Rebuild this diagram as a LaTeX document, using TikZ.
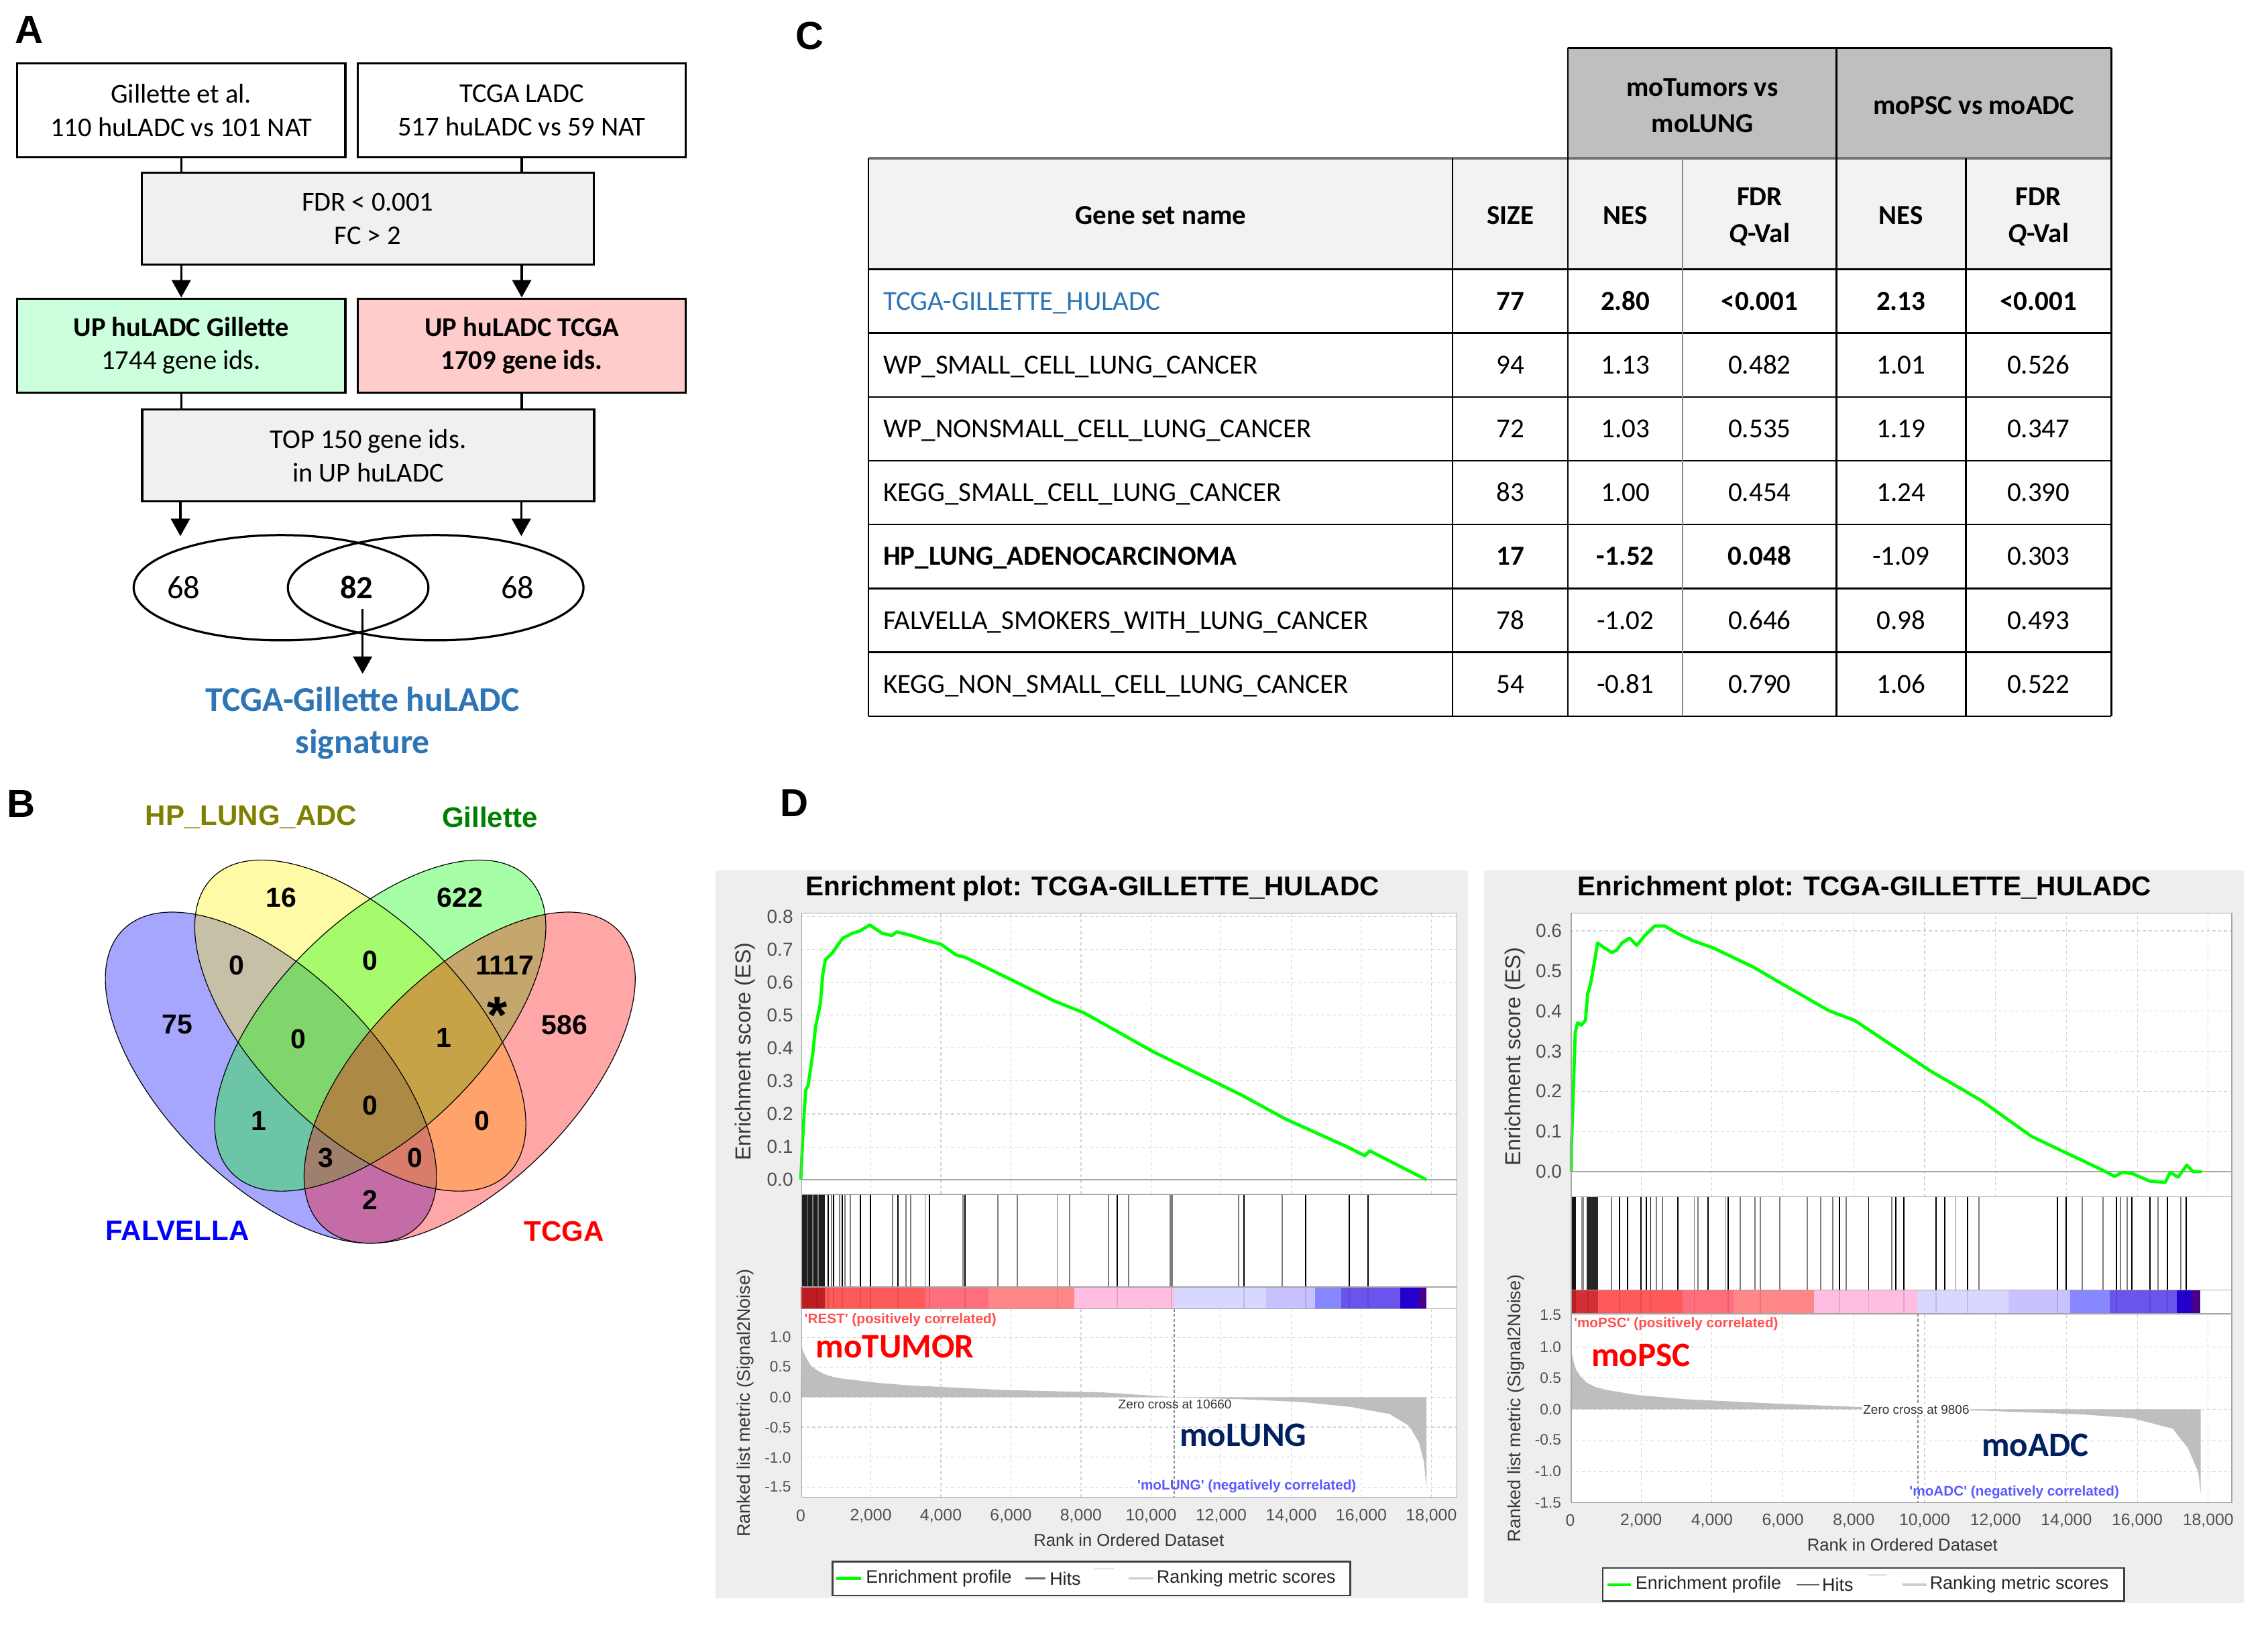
\documentclass[tikz,border=0pt]{standalone}
\usepackage{fontspec}
\setmainfont{Carlito}
\newfontfamily\arial{Liberation Sans}
\usetikzlibrary{arrows.meta,shapes.geometric}
\definecolor{boxgray}{RGB}{240,240,240}
\definecolor{mint}{RGB}{204,255,221}
\definecolor{rosy}{RGB}{255,204,204}
\definecolor{sigblue}{RGB}{46,117,182}
\definecolor{hdrgray}{RGB}{191,191,191}
\definecolor{hdrlight}{RGB}{242,242,242}
\definecolor{olivetxt}{RGB}{128,128,0}
\definecolor{greentxt}{RGB}{0,128,0}
\definecolor{panelbg}{RGB}{238,238,238}
\definecolor{gridc}{RGB}{210,210,210}
\definecolor{framec}{RGB}{165,165,165}
\definecolor{ticktxt}{RGB}{80,80,80}
\definecolor{axtxt}{RGB}{55,55,55}
\definecolor{esgreen}{RGB}{0,255,0}
\definecolor{metricgray}{RGB}{190,190,190}
\definecolor{poscol}{RGB}{255,80,80}
\definecolor{negcol}{RGB}{90,90,255}
\definecolor{navy}{RGB}{0,32,96}
\definecolor{hitgray}{RGB}{125,125,125}
\definecolor{cbA}{RGB}{190,30,35}
\definecolor{cbB}{RGB}{255,90,90}
\definecolor{cbC}{RGB}{255,110,125}
\definecolor{cbD}{RGB}{255,135,135}
\definecolor{cbE}{RGB}{255,190,225}
\definecolor{cbF}{RGB}{215,215,255}
\definecolor{cbG}{RGB}{200,195,255}
\definecolor{cbH}{RGB}{135,135,255}
\definecolor{cbI}{RGB}{105,85,235}
\definecolor{cbJ}{RGB}{35,0,205}
\definecolor{cbK}{RGB}{70,0,140}
\begin{document}
\begin{tikzpicture}[x=1pt,y=-1pt,
  boxA/.style={draw, line width=1.5pt, minimum width=227pt, minimum height=65pt, inner sep=0pt, align=center, font=\fontsize{18.8}{23.1}\selectfont},
  boxB/.style={draw, line width=1.5pt, minimum width=312.5pt, minimum height=63.5pt, inner sep=0pt, align=center, fill=boxgray, font=\fontsize{18.8}{23.1}\selectfont},
  arrA/.style={-{Triangle[length=12pt,width=13pt]}, line width=1.5pt},
  plainA/.style={line width=1.5pt},
  lettr/.style={font=\arial\bfseries\fontsize{27}{30}\selectfont, inner sep=0pt},
  vnum/.style={font=\arial\bfseries\fontsize{19}{22}\selectfont, inner sep=0pt},
  vlab/.style={font=\arial\bfseries\fontsize{19.5}{22}\selectfont, inner sep=0pt},
  tcell/.style={font=\fontsize{19}{23}\selectfont, inner sep=0pt, anchor=base},
  tname/.style={font=\fontsize{19}{23}\selectfont, inner sep=0pt, anchor=base west},
  thead/.style={font=\bfseries\fontsize{19}{23}\selectfont, inner sep=0pt, anchor=base},
  tline/.style={line width=1.2pt},
  gridl/.style={gridc, line width=0.5pt, dash pattern=on 2pt off 2pt},
  frm/.style={framec, line width=0.8pt},
  esline/.style={esgreen, line width=2.2pt, line join=round},
  hitg/.style={hitgray, line width=0.9pt},
  hitb/.style={black, line width=0.9pt},
  ttl/.style={font=\arial\bfseries\fontsize{18.8}{22}\selectfont, inner sep=0pt},
  tickes/.style={font=\arial\fontsize{13}{15}\selectfont, text=ticktxt, inner sep=0pt, anchor=east},
  tickm/.style={font=\arial\fontsize{10.5}{12}\selectfont, text=ticktxt, inner sep=0pt, anchor=east},
  tickx/.style={font=\arial\fontsize{11.5}{13}\selectfont, text=ticktxt, inner sep=0pt},
  axl/.style={font=\arial\fontsize{15}{17}\selectfont, text=axtxt, inner sep=0pt},
  axm/.style={font=\arial\fontsize{12.5}{15}\selectfont, text=axtxt, inner sep=0pt},
  axx/.style={font=\arial\fontsize{11.9}{14}\selectfont, text=axtxt, inner sep=0pt},
  corr/.style={font=\arial\bfseries\fontsize{9.6}{11}\selectfont, inner sep=0pt},
  grp/.style={font=\bfseries\fontsize{23.7}{26}\selectfont, inner sep=0pt, anchor=west},
  zc/.style={font=\arial\fontsize{8.8}{10}\selectfont, text=black!80, inner sep=0.6pt},
  legt/.style={font=\arial\fontsize{12.5}{14}\selectfont, text=black!85, inner sep=0pt, anchor=west},
  legbox/.style={draw=black!75, fill=white, line width=1.2pt, inner sep=0pt}
]
\useasboundingbox (0,0) rectangle (1568,1123);
\fill[white] (0,0) rectangle (1568,1123);

%================ PANEL A =================
\node[lettr] (labA) at (20,20.7) {A};
\node[boxA] (g1) at (125.3,76.2) {Gillette et al.\\110 huLADC vs 101 NAT};
\node[boxA] (g2) at (360.7,76.2) {TCGA LADC\\517 huLADC vs 59 NAT};
\node[boxB] (fdr) at (254.2,151.3) {FDR < 0.001\\FC > 2};
\node[boxA, fill=mint] (upg) at (125.3,238.9) {\textbf{UP huLADC Gillette}\\1744 gene ids.};
\node[boxA, fill=rosy, font=\bfseries\fontsize{18.8}{23.1}\selectfont] (upt) at (360.7,238.9) {UP huLADC TCGA\\1709 gene ids.};
\node[boxB] (top) at (254.5,314.9) {TOP 150 gene ids.\\in UP huLADC};
\draw[plainA] (g1.south) -- (g1.south |- fdr.north);
\draw[plainA] (g2.south) -- (g2.south |- fdr.north);
\draw[arrA] (fdr.south -| upg.north) -- (upg.north);
\draw[arrA] (fdr.south -| upt.north) -- (upt.north);
\draw[plainA] (upg.south) -- (upg.south |- top.north);
\draw[plainA] (upt.south) -- (upt.south |- top.north);
\node[draw, ellipse, line width=1.5pt, minimum width=203.8pt, minimum height=72.8pt, inner sep=0pt] (eL) at (194.3,406.3) {};
\node[draw, ellipse, line width=1.5pt, minimum width=204.4pt, minimum height=72.8pt, inner sep=0pt] (eR) at (301.2,406.3) {};
\coordinate (inL) at (124.7,370.6);
\coordinate (inR) at (360.4,370.6);
\draw[arrA] (top.south -| inL) -- (inL);
\draw[arrA] (top.south -| inR) -- (inR);
\node[font=\fontsize{22.5}{25}\selectfont, inner sep=0pt] (n68a) at (127,406.3) {68};
\node[font=\bfseries\fontsize{22.5}{25}\selectfont, inner sep=0pt] (n82) at (246.6,406.3) {82};
\node[font=\fontsize{22.5}{25}\selectfont, inner sep=0pt] (n68b) at (357.9,406.3) {68};
\node[font=\bfseries\fontsize{24}{29}\selectfont, text=sigblue, align=center, inner sep=0pt] (sig) at (250.7,500) {TCGA-Gillette huLADC\\signature};
\coordinate (s82) at (250.7,421);
\coordinate (sigtop) at (250.7,465.8);
\draw[arrA] (s82) -- (sigtop);

%================ PANEL B =================
\node[lettr] (labB) at (14.8,555.6) {B};
\node[vlab, text=olivetxt] (lhp) at (173.7,565.1) {HP\_LUNG\_ADC};
\node[vlab, text=greentxt] (lgi) at (338.6,565.1) {Gillette};
\node[vlab, text=blue] (lfa) at (122.6,851) {FALVELLA};
\node[vlab, text=red] (ltc) at (390,851) {TCGA};
\foreach \cx/\cy/\ang/\col in {187.3/745/-45/blue, 249.1/709/-45/yellow, 262.9/709/45/green, 324.7/745/45/red}
  \fill[\col, fill opacity=0.35, rotate around={\ang:(\cx,\cy)}] (\cx,\cy) ellipse [x radius=144.6, y radius=72.7];
\foreach \cx/\cy/\ang in {187.3/745/-45, 249.1/709/-45, 262.9/709/45, 324.7/745/45}
  \draw[black, line width=0.55pt, rotate around={\ang:(\cx,\cy)}] (\cx,\cy) ellipse [x radius=144.6, y radius=72.7];
\foreach \px/\py/\val [count=\k] in {194.6/620.7/16, 317.9/620.7/622, 163.5/667.3/0, 256/663.9/0, 348.9/667.3/1117, 122.7/708.4/75, 206.1/718.5/0, 306.9/717.4/1, 390.3/708.4/586, 178.9/774.7/1, 256/764.1/0, 333.2/774.7/0, 225.3/800.5/3, 286.8/800.5/0, 256/829.7/2}
  \node[vnum] (vn\k) at (\px,\py) {\val};
\node[font=\arial\bfseries\fontsize{36}{38}\selectfont, inner sep=0pt] (ast) at (343.6,702) {*};

%================ PANEL C =================
\node[lettr] (labC) at (560,25) {C};
\def\cA{600.3}\def\cB{1004.2}\def\cC{1084}\def\cD{1163.3}\def\cE{1269.7}\def\cF{1359}\def\cG{1459.6}
\fill[hdrgray] (\cC,33.1) rectangle (\cG,109.5);
\fill[hdrlight] (\cA,109.5) rectangle (\cG,186.1);
\draw[tline] (\cC,33.1) -- (\cG,33.1);
\draw[line width=1.7pt, black!55] (\cA,109.5) -- (\cG,109.5);
\foreach \yy in {186.1,230.2,274.4,318.5,362.6,406.8,450.9,495.1}
  \draw[tline] (\cA,\yy) -- (\cG,\yy);
\draw[tline] (\cA,109.5) -- (\cA,495.1);
\draw[tline] (\cB,109.5) -- (\cB,495.1);
\draw[tline] (\cC,33.1) -- (\cC,495.1);
\draw[line width=1.2pt, black!45] (\cD,109.5) -- (\cD,495.1);
\draw[tline] (\cE,33.1) -- (\cE,495.1);
\draw[tline] (\cF,109.5) -- (\cF,495.1);
\draw[tline] (\cG,33.1) -- (\cG,495.1);
\node[thead] (h1a) at (1176.9,66.5) {moTumors vs};
\node[thead] (h1b) at (1176.9,91.4) {moLUNG};
\node[thead] (h2) at (1364.6,78.9) {moPSC vs moADC};
\node[thead] (hg) at (802.6,155) {Gene set name};
\node[thead] (hs) at (1044.1,155) {SIZE};
\node[thead] (hn1) at (1123.7,155) {NES};
\node[thead] (hf1a) at (1216.5,142) {FDR};
\node[thead] (hf1b) at (1216.5,167.4) {\textit{Q}-Val};
\node[thead] (hn2) at (1314.3,155) {NES};
\node[thead] (hf2a) at (1409.3,142) {FDR};
\node[thead] (hf2b) at (1409.3,167.4) {\textit{Q}-Val};
% rows
\node[tname, text=sigblue] (r1n) at (610.4,214.3) {TCGA-GILLETTE\_HULADC};
\node[tcell, font=\bfseries\fontsize{19}{23}\selectfont] (r1a) at (1044.1,214.3) {77};
\node[tcell, font=\bfseries\fontsize{19}{23}\selectfont] (r1b) at (1123.7,214.3) {2.80};
\node[tcell, font=\bfseries\fontsize{19}{23}\selectfont] (r1c) at (1216.5,214.3) {<0.001};
\node[tcell, font=\bfseries\fontsize{19}{23}\selectfont] (r1d) at (1314.3,214.3) {2.13};
\node[tcell, font=\bfseries\fontsize{19}{23}\selectfont] (r1e) at (1409.3,214.3) {<0.001};
\foreach \nm/\s/\na/\fa/\nb/\fb [count=\k from 2] in {
  WP\_SMALL\_CELL\_LUNG\_CANCER/94/1.13/0.482/1.01/0.526,
  WP\_NONSMALL\_CELL\_LUNG\_CANCER/72/1.03/0.535/1.19/0.347,
  KEGG\_SMALL\_CELL\_LUNG\_CANCER/83/1.00/0.454/1.24/0.390}
{
  \pgfmathsetmacro{\yb}{186.1+44.14*(\k-0.5)+6.1}
  \node[tname] (r\k n) at (610.4,\yb) {\nm};
  \node[tcell] (r\k a) at (1044.1,\yb) {\s};
  \node[tcell] (r\k b) at (1123.7,\yb) {\na};
  \node[tcell] (r\k c) at (1216.5,\yb) {\fa};
  \node[tcell] (r\k d) at (1314.3,\yb) {\nb};
  \node[tcell] (r\k e) at (1409.3,\yb) {\fb};
}
\node[tname, font=\bfseries\fontsize{19}{23}\selectfont] (r5n) at (610.4,390.8) {HP\_LUNG\_ADENOCARCINOMA};
\node[tcell, font=\bfseries\fontsize{19}{23}\selectfont] (r5a) at (1044.1,390.8) {17};
\node[tcell, font=\bfseries\fontsize{19}{23}\selectfont] (r5b) at (1123.7,390.8) {-1.52};
\node[tcell, font=\bfseries\fontsize{19}{23}\selectfont] (r5c) at (1216.5,390.8) {0.048};
\node[tcell] (r5d) at (1314.3,390.8) {-1.09};
\node[tcell] (r5e) at (1409.3,390.8) {0.303};
\foreach \nm/\s/\na/\fa/\nb/\fb [count=\k from 6] in {
  FALVELLA\_SMOKERS\_WITH\_LUNG\_CANCER/78/-1.02/0.646/0.98/0.493,
  KEGG\_NON\_SMALL\_CELL\_LUNG\_CANCER/54/-0.81/0.790/1.06/0.522}
{
  \pgfmathsetmacro{\yb}{186.1+44.14*(\k-0.5)+6.1}
  \node[tname] (r\k n) at (610.4,\yb) {\nm};
  \node[tcell] (r\k a) at (1044.1,\yb) {\s};
  \node[tcell] (r\k b) at (1123.7,\yb) {\na};
  \node[tcell] (r\k c) at (1216.5,\yb) {\fa};
  \node[tcell] (r\k d) at (1314.3,\yb) {\nb};
  \node[tcell] (r\k e) at (1409.3,\yb) {\fb};
}

%================ PANEL D =================
\node[lettr] (labD) at (549,555) {D};
%---------- left plot
\fill[panelbg] (494.8,601.8) rectangle (1015,1104.6);
\node[ttl] (tt1) at (755.3,614.1) {Enrichment plot: TCGA-GILLETTE\_HULADC};
\fill[white] (554.3,631.2) rectangle (1007.2,1035.1);
\begin{scope}[shift={(553.6,815.6)}, x=24.22pt, y=227.6pt]
  \foreach \i in {1,...,8} \draw[gridl] (0,\i/10) -- (18.73,\i/10);
  \foreach \r in {2,4,...,18} \draw[gridl] (\r,-0.044) -- (\r,0.81);
  \draw[framec, line width=0.9pt] (0,0) -- (18.73,0);
\end{scope}
\begin{scope}[shift={(553.6,965.9)}, x=24.22pt, y=41.4pt]
  \foreach \v in {1,0.5,0,-0.5,-1,-1.5} \draw[gridl] (0,\v) -- (18.73,\v);
  \foreach \r in {2,4,...,18} \draw[gridl] (\r,-1.671) -- (\r,1.476);
  \fill[metricgray] (0,0) -- (0.03,0.84) -- (0.1,0.72) -- (0.21,0.6) -- (0.3,0.52) -- (0.49,0.44) -- (0.7,0.38) -- (0.91,0.34) -- (1.2,0.31) -- (1.62,0.28) -- (2.2,0.24) -- (3.02,0.2) -- (4.43,0.16) -- (5.84,0.12) -- (8.65,0.08) -- (10.69,0) -- (12.87,-0.04) -- (14.28,-0.08) -- (15.68,-0.16) -- (16.81,-0.28) -- (17.37,-0.48) -- (17.65,-0.76) -- (17.79,-1.08) -- (17.86,-1.52) -- (17.86,0) -- cycle;
  \draw[black!45, line width=0.7pt, dash pattern=on 2pt off 1.5pt] (10.66,1.476) -- (10.66,-1.671);
\end{scope}
\begin{scope}[shift={(553.6,0)}, x=24.22pt]
  \foreach \a/\b/\c in {0/0.69/cbA, 0.69/3.56/cbB, 3.56/5.35/cbC, 5.35/7.8/cbD, 7.8/10.67/cbE, 10.67/13.29/cbF, 13.29/14.69/cbG, 14.69/15.42/cbH, 15.42/17.12/cbI, 17.12/17.65/cbJ, 17.65/17.86/cbK}
    \fill[\c] (\a,889.8) rectangle (\b,904.8);
  \fill[black!88] (0.03,825.6) rectangle (0.69,889.8);
  \foreach \r in {0.2,0.35,0.5} \draw[hitg] (\r,825.6) -- (\r,889.8);
  \foreach \r in {0.88,1.10,1.26,1.42,2.63,3.0,3.14,3.55,4.64,5.63,6.19,7.32,7.67,8.79,9.36,12.49,13.75}
    \draw[hitg] (\r,825.6) -- (\r,889.8);
  \foreach \r in {0.78,0.94,1.18,1.71,1.99,2.78,3.67,4.69,9.03,12.65,14.41,15.65,16.19}
    \draw[hitb] (\r,825.6) -- (\r,889.8);
  \draw[hitgray, line width=2.4pt] (10.58,825.6) -- (10.58,889.8);
  \foreach \r in {0.2,0.45,0.78,0.94,1.18,1.71,1.99,2.78,3.67,4.69,7.32,9.03,10.58,12.65,14.41,15.65,16.19}
    \draw[black, opacity=0.12, line width=0.9pt] (\r,889.8) -- (\r,904.8);
\end{scope}
\begin{scope}[shift={(553.6,815.6)}, x=24.22pt, y=227.6pt]
  \draw[esline] plot coordinates {(0,0) (0.07,0.154) (0.14,0.272) (0.21,0.286) (0.35,0.389) (0.42,0.463) (0.56,0.536) (0.63,0.624) (0.70,0.668) (0.91,0.690) (1.05,0.712) (1.20,0.734) (1.48,0.749) (1.69,0.756) (1.97,0.774) (2.32,0.749) (2.60,0.742) (2.74,0.753) (3.16,0.742) (3.59,0.727) (4.01,0.715) (4.43,0.683) (4.71,0.675) (5.27,0.646) (6.12,0.602) (7.24,0.543) (8.09,0.507) (10.06,0.389) (11.46,0.316) (12.59,0.257) (13.85,0.184) (15.54,0.103) (16.10,0.073) (16.24,0.088) (17.86,0.0)};
\end{scope}
\draw[frm] (554.3,631.2) rectangle (1007.2,1035.1);
\draw[frm] (554.3,825.6) -- (1007.2,825.6);
\draw[frm] (554.3,889.8) -- (1007.2,889.8);
\draw[frm] (554.3,904.8) -- (1007.2,904.8);
\foreach \i in {0,...,8} \node[tickes] (esl\i) at (548.5,{815.6-22.76*\i}) {0.\i};
\foreach \lab/\yy [count=\k] in {1.0/924.2, 0.5/944.9, 0.0/965.9, -0.5/986.7, -1.0/1007.7, -1.5/1027.7}
  \node[tickm] (mtl\k) at (547,\yy) {\lab};
\foreach \r/\lab [count=\k] in {0/0, 2/{2,000}, 4/{4,000}, 6/{6,000}, 8/{8,000}, 10/{10,000}, 12/{12,000}, 14/{14,000}, 16/{16,000}, 18/{18,000}}
  \node[tickx] (xtl\k) at ({553.6+24.22*\r},1047.8) {\lab};
\node[axx] (xl1) at (780.4,1064.5) {Rank in Ordered Dataset};
\node[axl, rotate=90] (yl1) at (515.2,727) {Enrichment score (ES)};
\node[axm, rotate=90] (ym1) at (515.2,970) {Ranked list metric (Signal2Noise)};
\node[corr, text=poscol, anchor=west] (pc1) at (556,912.4) {\textquotesingle REST\textquotesingle{} (positively correlated)};
\node[grp, text=red] (g1t) at (564,930.9) {moTUMOR};
\node[zc] (zc1) at (812.3,971) {Zero cross at 10660};
\node[grp, text=navy] (g1b) at (815.5,992) {moLUNG};
\node[corr, text=negcol] (nc1) at (862,1027.7) {\textquotesingle moLUNG\textquotesingle{} (negatively correlated)};
\node[legbox, minimum width=357.7pt, minimum height=23.5pt] (leg1) at (754.55,1091.25) {};
\draw[esgreen, line width=2pt] (578.1,1091.2) -- (595.1,1091.2);
\node[legt] (lg1a) at (598.5,1091.2) {Enrichment profile};
\draw[black!60, line width=1.2pt] (709,1091.2) -- (722.6,1091.2);
\node[legt] (lg1b) at (725.5,1091.2) {Hits};
\draw[black!10, line width=1pt] (756.6,1084.5) -- (770.2,1084.5);
\draw[black!20, line width=1.5pt] (780.4,1091.2) -- (797.4,1091.2);
\node[legt] (lg1c) at (799.5,1091.2) {Ranking metric scores};

%---------- right plot
\fill[panelbg] (1026.2,601.8) rectangle (1551.2,1107.9);
\node[ttl] (tt2) at (1289,614.1) {Enrichment plot: TCGA-GILLETTE\_HULADC};
\fill[white] (1086.3,631.2) rectangle (1543.1,1038.8);
\begin{scope}[shift={(1085.6,809.9)}, x=24.5pt, y=277.3pt]
  \foreach \i in {1,...,6} \draw[gridl] (0,\i/10) -- (18.67,\i/10);
  \foreach \r in {2,4,...,18} \draw[gridl] (\r,-0.063) -- (\r,0.644);
  \draw[framec, line width=0.9pt] (0,0) -- (18.67,0);
\end{scope}
\begin{scope}[shift={(1085.6,974.3)}, x=24.5pt, y=43.2pt]
  \foreach \v in {1,0.5,0,-0.5,-1} \draw[gridl] (0,\v) -- (18.67,\v);
  \foreach \r in {2,4,...,18} \draw[gridl] (\r,-1.5) -- (\r,1.53);
  \fill[metricgray] (0,0) -- (0.03,0.94) -- (0.1,0.75) -- (0.17,0.63) -- (0.3,0.52) -- (0.46,0.43) -- (0.7,0.36) -- (1.03,0.31) -- (1.88,0.23) -- (3.31,0.16) -- (5.88,0.09) -- (9.81,0) -- (11.58,-0.02) -- (14.44,-0.08) -- (15.86,-0.14) -- (17.0,-0.31) -- (17.43,-0.62) -- (17.72,-1.0) -- (17.79,-1.35) -- (17.79,0) -- cycle;
  \draw[black!45, line width=0.7pt, dash pattern=on 2pt off 1.5pt] (9.81,1.53) -- (9.81,-1.5);
\end{scope}
\begin{scope}[shift={(1085.6,0)}, x=24.5pt]
  \foreach \a/\b/\c in {0/0.16/cbA, 0.16/0.79/cbA!70!cbB, 0.79/3.16/cbB, 3.16/4.61/cbC, 4.61/6.88/cbD, 6.88/9.8/cbE, 9.8/12.37/cbF, 12.37/14.11/cbG, 14.11/15.23/cbH, 15.23/17.12/cbI, 17.12/17.53/cbJ, 17.53/17.77/cbK}
    \fill[\c] (\a,891.8) rectangle (\b,908.1);
  \fill[black!92] (0.03,827.3) rectangle (0.16,891.8);
  \fill[black!45] (0.31,827.3) rectangle (0.39,891.8);
  \fill[black!85] (0.47,827.3) rectangle (0.79,891.8);
  \foreach \r in {1.17,2.43,2.6,3.5,3.6,4.37,4.79,5.22,5.36,5.91,6.68,7.06,7.4,7.78,9.08,10.88,11.54,14.44,15.04,15.52,15.71,16.59,17.22}
    \draw[hitg] (\r,827.3) -- (\r,891.8);
  \foreach \r in {1.39,1.61,1.99,2.14,2.27,3.03,3.89,4.45,7.6,8.42,9.19,9.42,10.32,10.56,11.21,13.75,13.99,15.41,15.85,16.36,16.85,17.38}
    \draw[hitb] (\r,827.3) -- (\r,891.8);
  \foreach \r in {0.5,1.39,1.99,2.27,3.5,4.45,5.36,7.6,8.42,9.42,10.32,11.21,13.75,15.41,16.36,16.85,17.38}
    \draw[black, opacity=0.12, line width=0.9pt] (\r,891.8) -- (\r,908.1);
\end{scope}
\begin{scope}[shift={(1085.6,809.9)}, x=24.5pt, y=277.3pt]
  \draw[esline] plot coordinates {(0.03,0) (0.03,0.058) (0.07,0.154) (0.1,0.239) (0.14,0.347) (0.21,0.371) (0.31,0.365) (0.43,0.377) (0.49,0.443) (0.57,0.467) (0.67,0.516) (0.77,0.570) (0.96,0.558) (1.17,0.546) (1.31,0.552) (1.46,0.570) (1.67,0.582) (1.88,0.564) (2.10,0.588) (2.38,0.612) (2.67,0.612) (3.02,0.594) (3.45,0.576) (4.02,0.558) (4.45,0.540) (5.16,0.510) (5.88,0.473) (7.30,0.401) (8.02,0.377) (10.16,0.251) (11.58,0.178) (13.01,0.088) (13.72,0.058) (14.44,0.028) (15.01,0.004) (15.36,-0.012) (15.58,-0.002) (15.86,-0.005) (16.36,-0.024) (16.79,-0.027) (16.93,-0.002) (17.15,-0.014) (17.40,0.016) (17.57,0) (17.82,0)};
\end{scope}
\draw[frm] (1086.3,631.2) rectangle (1543.1,1038.8);
\draw[frm] (1086.3,827.3) -- (1543.1,827.3);
\draw[frm] (1086.3,891.8) -- (1543.1,891.8);
\draw[frm] (1086.3,908.1) -- (1543.1,908.1);
\foreach \i in {0,...,6} \node[tickes] (esr\i) at (1080,{809.9-27.73*\i}) {0.\i};
\foreach \lab/\yy [count=\k] in {1.5/909.1, 1.0/931.5, 0.5/952.6, 0.0/974.3, -0.5/995.3, -1.0/1017, -1.5/1038.8}
  \node[tickm] (mtr\k) at (1079.5,\yy) {\lab};
\foreach \r/\lab [count=\k] in {0/0, 2/{2,000}, 4/{4,000}, 6/{6,000}, 8/{8,000}, 10/{10,000}, 12/{12,000}, 14/{14,000}, 16/{16,000}, 18/{18,000}}
  \node[tickx] (xtr\k) at ({1085.6+24.5*\r},1051.1) {\lab};
\node[axx] (xl2) at (1315.2,1067.8) {Rank in Ordered Dataset};
\node[axl, rotate=90] (yl2) at (1047.2,730.4) {Enrichment score (ES)};
\node[axm, rotate=90] (ym2) at (1047.9,973.5) {Ranked list metric (Signal2Noise)};
\node[corr, text=poscol, anchor=west] (pc2) at (1088,915.1) {\textquotesingle moPSC\textquotesingle{} (positively correlated)};
\node[grp, text=red] (g2t) at (1100,936.9) {moPSC};
\node[zc, fill=white] (zc2) at (1324.8,974.3) {Zero cross at 9806};
\node[grp, text=navy] (g2b) at (1370,999.3) {moADC};
\node[corr, text=negcol] (nc2) at (1392.6,1031.7) {\textquotesingle moADC\textquotesingle{} (negatively correlated)};
\node[legbox, minimum width=360.4pt, minimum height=23.1pt] (leg2) at (1288.2,1095.45) {};
\draw[esgreen, line width=2pt] (1111.5,1095.5) -- (1127.6,1095.5);
\node[legt] (lg2a) at (1130.5,1095.5) {Enrichment profile};
\draw[black!60, line width=1.2pt] (1241.9,1095.5) -- (1257.6,1095.5);
\node[legt] (lg2b) at (1259.5,1095.5) {Hits};
\draw[black!10, line width=1pt] (1291.8,1088.8) -- (1304.8,1088.8);
\draw[black!20, line width=1.5pt] (1315.3,1095.5) -- (1332,1095.5);
\node[legt] (lg2c) at (1334,1095.5) {Ranking metric scores};
\end{tikzpicture}
\end{document}
